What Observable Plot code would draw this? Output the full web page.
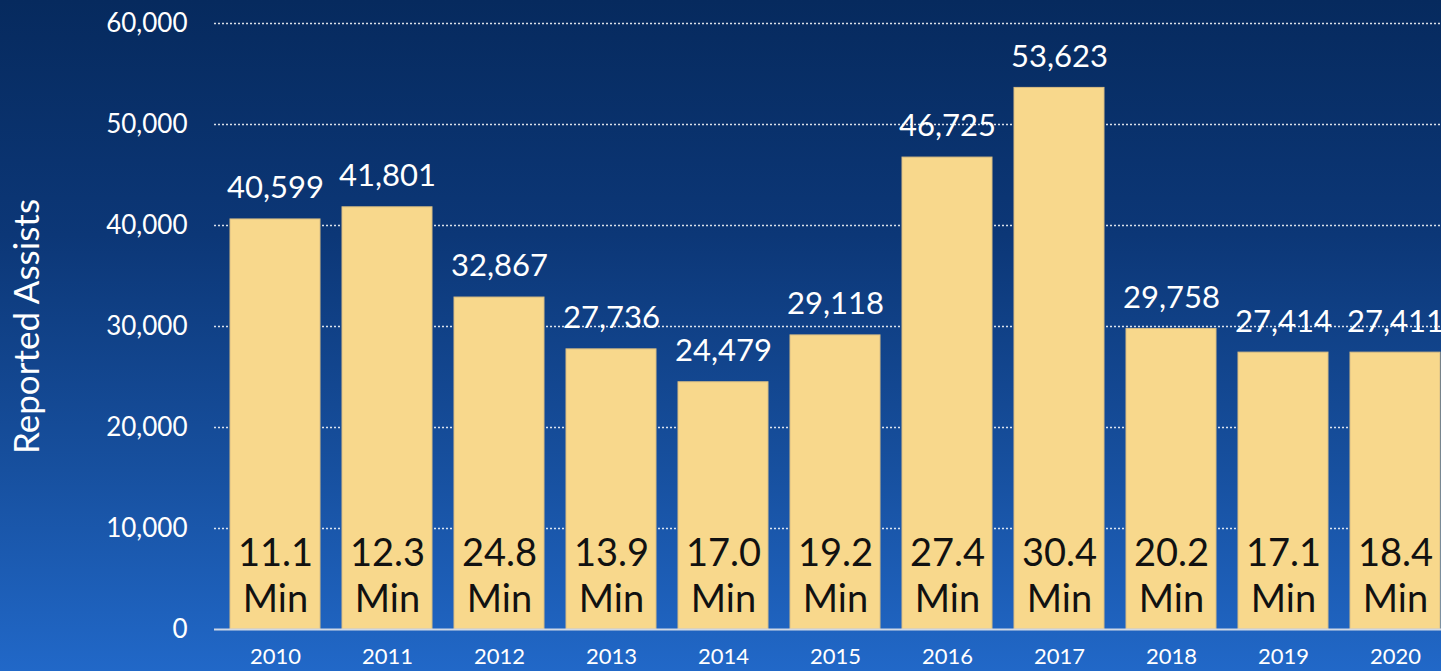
<!DOCTYPE html>
<html>
<head>
<meta charset="utf-8">
<script src="https://cdn.jsdelivr.net/npm/d3@7"></script>
<script src="https://cdn.jsdelivr.net/npm/@observablehq/plot@0.6"></script>
<style>
  html, body { margin: 0; padding: 0; overflow: hidden; }
  #chart {
    width: 1441px; height: 671px; overflow: hidden;
    background: linear-gradient(to bottom, #062a5e 0%, #0c3777 35%, #17509f 70%, #2168c8 100%);
  }
  #chart svg { display: block; max-width: none !important; }
</style>
</head>
<body>
<div id="chart"></div>
<script>
const years = ["2010","2011","2012","2013","2014","2015","2016","2017","2018","2019","2020"];
const assists = [40599, 41801, 32867, 27736, 24479, 29118, 46725, 53623, 29758, 27414, 27411];
const minutes = ["11.1","12.3","24.8","13.9","17.0","19.2","27.4","30.4","20.2","17.1","18.4"];
const yTicks = [0, 10000, 20000, 30000, 40000, 50000, 60000];
const yTitle = "Reported Assists";

const rows = years.map((year, i) => ({year, assists: assists[i], min: minutes[i]}));
const fmt = d3.format(",");

const chart = Plot.plot({
  width: 1456,
  height: 671,
  marginLeft: 214,
  marginRight: 0,
  marginTop: 23,
  marginBottom: 42,
  style: {background: "transparent", color: "white", fontFamily: "Lato, 'Open Sans', sans-serif", overflow: "visible"},
  x: {type: "band", domain: years, paddingInner: 0.2, paddingOuter: 0.1, label: null},
  y: {domain: [0, 60000], label: null},
  marks: [
    Plot.gridY(yTicks.filter(d => d > 0), {stroke: "white", strokeOpacity: 0.85, strokeDasharray: "2,2", strokeWidth: 1.5}),
    Plot.barY(rows, {x: "year", y: "assists", fill: "#F8D88C", stroke: "#D9BE84", strokeWidth: 1}),
    Plot.ruleY([0], {stroke: "#cfd8e6", strokeWidth: 2}),
    Plot.text(rows, {x: "year", y: "assists", text: d => fmt(d.assists), dy: -31, fontSize: 31, fill: "white"}),
    Plot.text(rows, {x: "year", y: () => 0, text: d => d.min + "\nMin", lineAnchor: "middle", lineHeight: 1.21, dy: -55, fontSize: 38, fill: "#111"}),
    Plot.axisY({ticks: yTicks, tickSize: 0, tickPadding: 27, fontSize: 26, tickFormat: fmt, label: null}),
    Plot.axisX({tickSize: 0, tickPadding: 19, fontSize: 22, label: null}),
    Plot.text([yTitle], {frameAnchor: "left", textAnchor: "middle", dx: -187, rotate: -90, fontSize: 35, fill: "white"})
  ]
});
document.getElementById("chart").appendChild(chart);
</script>
</body>
</html>
